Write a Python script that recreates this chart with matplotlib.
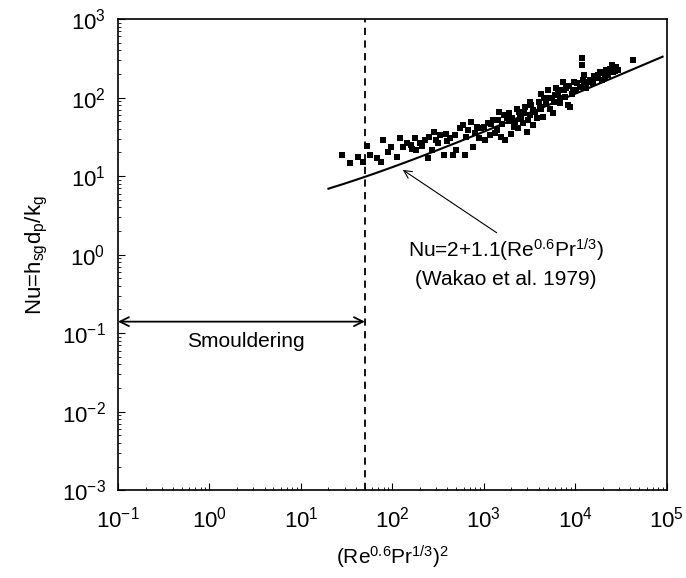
import numpy as np
import matplotlib
matplotlib.use("Agg")
from matplotlib import pyplot as plt

plt.rcParams['font.family'] = ['Liberation Sans', 'DejaVu Sans']
plt.rcParams['mathtext.fontset'] = 'custom'
plt.rcParams['mathtext.rm'] = 'Liberation Sans'
plt.rcParams['mathtext.it'] = 'Liberation Sans'
plt.rcParams['mathtext.default'] = 'regular'
plt.rcParams['axes.unicode_minus'] = False

# measured data, read as log10 values off the picture
log_x = [1.445, 1.535, 1.626, 1.68, 1.72, 1.75, 1.83, 1.88, 1.90, 1.95, 1.99, 2.05,
         2.08, 2.12, 2.155, 2.21, 2.246, 2.26, 2.30, 2.355, 2.39, 2.43, 2.45, 2.48,
         2.52, 2.56, 2.59, 2.63, 2.66, 2.70, 2.74, 2.77, 2.79, 2.83, 2.86, 2.88,
         2.92, 2.97, 3.01, 3.05, 3.07, 3.10, 3.14, 3.17, 3.19, 3.23, 3.25, 3.28,
         3.30, 3.34, 3.36, 3.37, 3.39, 3.43, 3.45, 3.47, 3.50, 3.50, 3.54, 3.54,
         3.58, 3.61, 3.63, 3.65, 3.69, 3.70, 3.72, 3.76, 3.78, 3.79, 3.83, 3.85,
         3.86, 3.885, 3.90, 3.92, 3.94, 3.96, 3.99, 4.01, 4.05, 4.07, 4.07, 4.09,
         4.10, 4.12, 4.16, 4.19, 4.23, 4.25, 4.29, 4.305, 4.34, 4.36, 4.40, 4.415,
         4.45, 4.47, 4.63,
         2.20, 2.32, 2.40, 2.50, 2.60, 2.68, 2.80, 2.90, 2.95, 3.00, 3.08, 3.12,
         3.15, 3.20, 3.22, 3.27, 3.31, 3.33, 3.38, 3.41, 3.44, 3.48, 3.52, 3.56,
         3.60, 3.63, 3.66, 3.68, 3.74, 3.77, 3.81, 3.83, 3.88, 3.93, 3.97, 4.02,
         4.08, 4.14, 4.20, 4.27, 4.32, 4.38, 4.43]
log_nu = [1.27, 1.17, 1.246, 1.18, 1.38, 1.27, 1.23, 1.18, 1.46, 1.31, 1.37, 1.246,
          1.48, 1.37, 1.42, 1.35, 1.48, 1.33, 1.42, 1.46, 1.23, 1.33, 1.56, 1.46,
          1.52, 1.27, 1.54, 1.48, 1.27, 1.33, 1.61, 1.65, 1.27, 1.59, 1.69, 1.37,
          1.63, 1.61, 1.46, 1.67, 1.52, 1.71, 1.59, 1.82, 1.50, 1.46, 1.735, 1.80,
          1.54, 1.69, 1.86, 1.61, 1.78, 1.67, 1.88, 1.56, 1.95, 1.78, 1.84, 1.65,
          1.735, 1.88, 2.05, 1.755, 1.99, 2.095, 1.86, 1.80, 2.03, 2.12, 1.93, 2.095,
          2.20, 2.01, 2.12, 1.90, 1.88, 2.05, 2.20, 2.095, 2.14, 2.50, 2.41, 2.18,
          2.29, 2.12, 2.22, 2.18, 2.245, 2.29, 2.22, 2.31, 2.35, 2.29, 2.41, 2.33,
          2.39, 2.35, 2.48,
          1.40, 1.38, 1.50, 1.42, 1.45, 1.52, 1.50, 1.55, 1.48, 1.62, 1.66, 1.55,
          1.72, 1.66, 1.78, 1.70, 1.74, 1.62, 1.82, 1.73, 1.80, 1.72, 1.90, 1.82,
          1.95, 1.86, 2.00, 1.92, 2.00, 1.95, 2.05, 2.00, 2.10, 2.15, 2.10, 2.18,
          2.22, 2.20, 2.28, 2.32, 2.26, 2.37, 2.34]

x_data = 10 ** np.array(log_x)
nu_data = 10 ** np.array(log_nu)

# Wakao correlation, Nu = 2 + 1.1 (Re^0.6 Pr^1/3)
x_fit = np.logspace(np.log10(20), np.log10(9e4), 200)
nu_fit = 2 + 1.1 * np.sqrt(x_fit)

smoulder_limit = 50
decades = [-1, 0, 1, 2, 3, 4, 5]
y_decades = [-3, -2, -1, 0, 1, 2, 3]

fig = plt.figure(figsize=(6.86, 5.78), dpi=100)
ax = fig.add_axes([0.172, 0.152, 0.8, 0.815])

ax.plot(x_data, nu_data, 's', color='black', markersize=4.8, markeredgewidth=0)
ax.plot(x_fit, nu_fit, color='black', linewidth=1.5)
ax.axvline(smoulder_limit, color='black', linestyle=(0, (4, 3)), linewidth=1.3)

ax.set_xscale('log')
ax.set_yscale('log')
ax.set_xlim(1e-1, 1e5)
ax.set_ylim(1e-3, 1e3)
ax.set_xticks([10.0 ** d for d in decades])
ax.set_xticklabels(['$10^{%d}$' % d for d in decades])
ax.set_yticks([10.0 ** d for d in y_decades])
ax.set_yticklabels(['$10^{%d}$' % d for d in y_decades])

ax.annotate('', xy=(0.1, 0.14), xytext=(smoulder_limit, 0.14),
            arrowprops=dict(arrowstyle='<->', color='black', lw=1.3,
                            shrinkA=0, shrinkB=0, mutation_scale=16))
ax.text(2.5, 0.078, 'Smouldering', ha='center', va='center', fontsize=15)

ax.annotate('', xy=(130, 12), xytext=(1380, 1.9),
            arrowprops=dict(arrowstyle='->', color='black', lw=0.8,
                            shrinkA=0, shrinkB=0, mutation_scale=14))
ax.text(1750, 0.78, 'Nu=2+1.1(Re$^{0.6}$Pr$^{1/3}$)\n(Wakao et al. 1979)',
        ha='center', va='center', fontsize=15, linespacing=1.4)

ax.set_xlabel('(Re$^{0.6}$Pr$^{1/3}$)$^{2}$', fontsize=15, labelpad=8)
ax.set_ylabel('Nu=h$_{sg}$d$_{p}$/k$_{g}$', fontsize=16, labelpad=8)
ax.tick_params(which='both', direction='in', top=False, right=False, labelsize=16)
ax.tick_params(which='major', length=5)
ax.tick_params(axis='x', which='major', pad=12)
ax.tick_params(axis='y', which='major', pad=9)
ax.tick_params(which='minor', length=2.5)
for s in ax.spines.values():
    s.set_linewidth(1.2)

plt.savefig('out.png', dpi=100)
